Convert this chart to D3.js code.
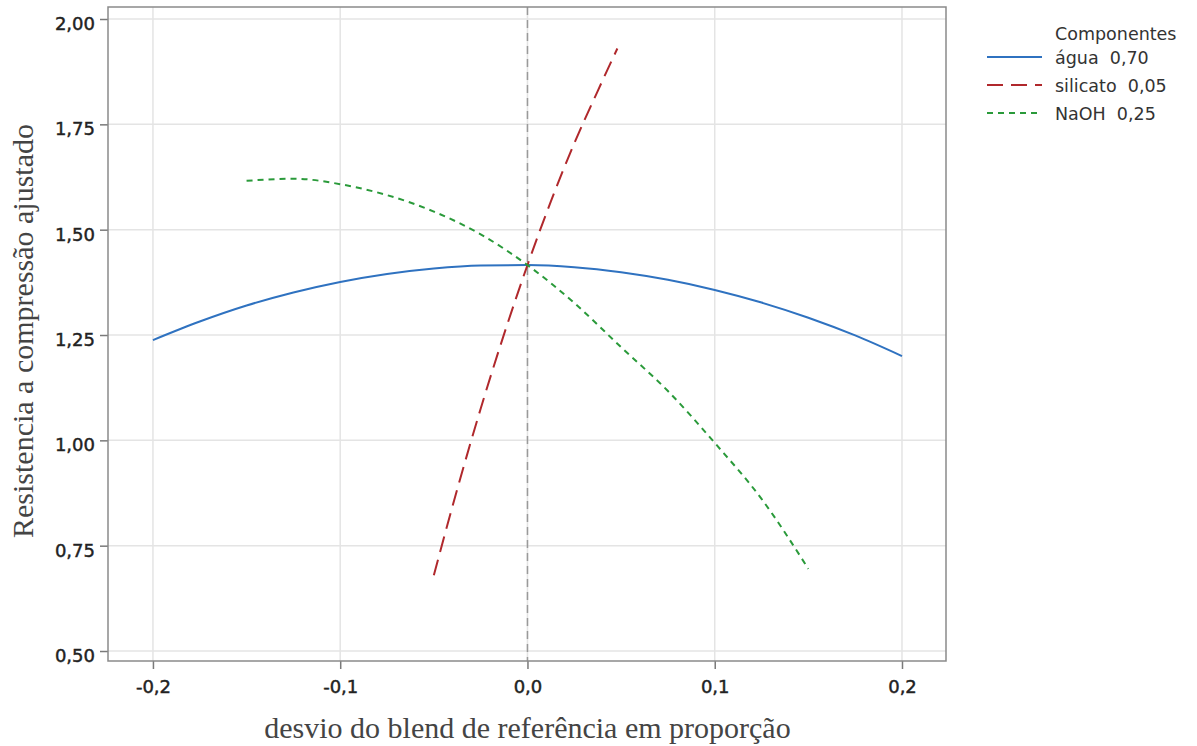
<!DOCTYPE html>
<html>
<head>
<meta charset="utf-8">
<script src="https://cdn.jsdelivr.net/npm/d3@7"></script>
<style>
  html, body { margin: 0; padding: 0; background: #fff; }
  svg { display: block; }
  .tick text { font-family: "DejaVu Sans", "Noto Sans", sans-serif; font-size: 18px; fill: #222; stroke: #222; stroke-width: 0.45px; }
</style>
</head>
<body>
<svg id="chart" width="1197" height="746"></svg>
<script>
// Trace curves of the mixture (blend deviation vs adjusted strength)
const aguaX = [-0.2, -0.175, -0.15, -0.125, -0.1, -0.075, -0.05, -0.025, 0, 0.025, 0.05, 0.075, 0.1, 0.125, 0.15, 0.175, 0.2];
const aguaY = [1.238, 1.282, 1.320, 1.351, 1.376, 1.395, 1.408, 1.415, 1.416, 1.411, 1.399, 1.381, 1.357, 1.327, 1.291, 1.249, 1.200];

const silicatoX = [-0.05, -0.0375, -0.025, -0.0125, 0, 0.0125, 0.025, 0.0375, 0.048];
const silicatoY = [0.680, 0.884, 1.075, 1.252, 1.416, 1.567, 1.705, 1.829, 1.930];

const naohX = [-0.15, -0.125, -0.1, -0.075, -0.05, -0.025, 0, 0.025, 0.05, 0.075, 0.1, 0.125, 0.15];
const naohY = [1.616, 1.621, 1.608, 1.582, 1.543, 1.489, 1.416, 1.326, 1.221, 1.117, 0.994, 0.861, 0.695];

const xTicks = [-0.2, -0.1, 0.0, 0.1, 0.2];
const yTicks = [0.50, 0.75, 1.00, 1.25, 1.50, 1.75, 2.00];

const legendTitle = "Componentes";
const seriesNames = ["água  0,70", "silicato  0,05", "NaOH  0,25"];

const series = [
  { name: seriesNames[0], xs: aguaX, ys: aguaY, color: "#2f72c0", dash: null, width: 2 },
  { name: seriesNames[1], xs: silicatoX, ys: silicatoY, color: "#b0282c", dash: "16,8", width: 2 },
  { name: seriesNames[2], xs: naohX, ys: naohY, color: "#2a9a3a", dash: "6,5", width: 2 }
];

const svg = d3.select("#chart");
const plotLeft = 108, plotRight = 946, plotTop = 7, plotBottom = 661;

const x = d3.scaleLinear().domain([-0.224, 0.2235]).range([plotLeft, plotRight]);
const y = d3.scaleLinear().domain([0.4763, 2.0285]).range([plotBottom, plotTop]);

const locale = d3.formatLocale({ decimal: ",", thousands: ".", grouping: [3], currency: ["", ""], minus: "-" });
const fmtX = locale.format(".1f");
const fmtY = locale.format(".2f");

// Gridlines
svg.append("g").selectAll("line").data(xTicks).join("line")
  .attr("x1", d => x(d)).attr("x2", d => x(d))
  .attr("y1", plotTop).attr("y2", plotBottom)
  .attr("stroke", "#e4e4e4").attr("stroke-width", 1.5);
svg.append("g").selectAll("line").data(yTicks).join("line")
  .attr("x1", plotLeft).attr("x2", plotRight)
  .attr("y1", d => y(d)).attr("y2", d => y(d))
  .attr("stroke", "#e4e4e4").attr("stroke-width", 1.5);

// Reference line at zero deviation
svg.append("line")
  .attr("x1", x(0)).attr("x2", x(0))
  .attr("y1", plotTop).attr("y2", plotBottom)
  .attr("stroke", "#9a9a9a").attr("stroke-width", 1.5)
  .attr("stroke-dasharray", "8,5");

// Axes
const xAxis = svg.append("g")
  .attr("transform", `translate(0,${plotBottom})`)
  .call(d3.axisBottom(x).tickValues(xTicks).tickFormat(fmtX).tickSize(8).tickPadding(11));
const yAxis = svg.append("g")
  .attr("transform", `translate(${plotLeft},0)`)
  .call(d3.axisLeft(y).tickValues(yTicks).tickFormat(fmtY).tickSize(8).tickPadding(5));
[xAxis, yAxis].forEach(g => {
  g.select(".domain").remove();
  g.selectAll(".tick line").attr("stroke", "#7a7a7a").attr("stroke-width", 1.5);
});
yAxis.selectAll(".tick text").attr("dy", "0.36em").attr("y", 4);

// Plot frame
svg.append("rect")
  .attr("x", plotLeft).attr("y", plotTop)
  .attr("width", plotRight - plotLeft).attr("height", plotBottom - plotTop)
  .attr("fill", "none").attr("stroke", "#8a8a8a").attr("stroke-width", 1.5);

// Curves
const line = d3.line().x(d => x(d[0])).y(d => y(d[1])).curve(d3.curveMonotoneX);
series.forEach(s => {
  svg.append("path")
    .datum(s.xs.map((v, i) => [v, s.ys[i]]))
    .attr("d", line)
    .attr("fill", "none")
    .attr("stroke", s.color)
    .attr("stroke-width", s.width)
    .attr("stroke-dasharray", s.dash);
});

// Axis titles
svg.append("text")
  .attr("x", x(0)).attr("y", 738)
  .attr("text-anchor", "middle")
  .attr("font-family", "'Liberation Serif', 'DejaVu Serif', serif")
  .attr("font-size", 30).attr("fill", "#444")
  .text("desvio do blend de referência em proporção");
svg.append("text")
  .attr("transform", "translate(33,331) rotate(-90)")
  .attr("text-anchor", "middle")
  .attr("font-family", "'Liberation Serif', 'DejaVu Serif', serif")
  .attr("font-size", 30).attr("fill", "#444")
  .text("Resistencia a compressão ajustado");

// Legend
const legend = svg.append("g")
  .attr("font-family", "'DejaVu Sans', 'Noto Sans', sans-serif")
  .attr("font-size", 17.5).attr("fill", "#333");
legend.append("text").attr("x", 1055).attr("y", 40).text(legendTitle);
series.forEach((s, i) => {
  const ly = 57 + i * 28;
  legend.append("line")
    .attr("x1", 987).attr("x2", 1042)
    .attr("y1", ly).attr("y2", ly)
    .attr("stroke", s.color).attr("stroke-width", 2)
    .attr("stroke-dasharray", s.dash);
  legend.append("text").attr("x", 1055).attr("y", ly + 7).style("white-space", "pre").text(s.name);
});
</script>
</body>
</html>
